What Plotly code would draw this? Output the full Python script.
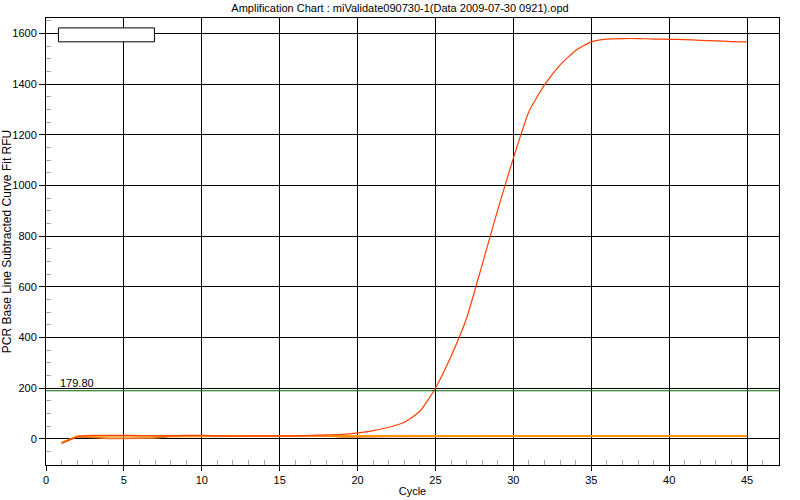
import plotly.graph_objects as go

# ---- data ----
cycles = list(range(1, 46))

sample_main = [-18, 8, 14, 14, 14, 13, 12, 12, 14, 14, 12, 12, 12, 12, 12, 12, 14, 16, 18, 24,
               33, 46, 66, 109, 201, 326, 477, 688, 905, 1108, 1292, 1397, 1476, 1533, 1567,
               1578, 1580, 1580, 1578, 1577, 1576, 1573, 1571, 1568, 1567]
sample_orange = [-16, 11, 12, 12, 12, 12, 12, 12, 12, 12, 12, 12, 12, 12, 12, 12, 12, 12, 12, 12,
                 12, 12, 12, 12, 12, 12, 12, 12, 12, 12, 12, 12, 12, 12, 12, 12, 12, 12, 12, 12,
                 12, 12, 12, 12, 12]
sample_dark = [-14, 8, 6, 2, 2, 2, 4, 10, 10, 10, 10, 10, 10, 12, 12, 12, 12, 12, 8, 10,
               9, 10, 10, 10, 10, 10, 11, 10, 12, 10, 12, 12, 10, 10, 10, 10, 10, 12, 10, 12,
               12, 10, 12, 12, 12]

threshold_value = 190
threshold_label = "179.80"

x_ticks = [0, 5, 10, 15, 20, 25, 30, 35, 40, 45]
y_ticks = [0, 200, 400, 600, 800, 1000, 1200, 1400, 1600]
x_minor_ticks = [c for c in range(1, 47) if c % 5 != 0]
y_minor_ticks = [v for v in range(-100, 1651, 50) if v % 200 != 0]
x_range = [0, 47.05]
y_range = [-103, 1661]

title_text = "Amplification Chart : miValidate090730-1(Data 2009-07-30 0921).opd"
x_title = "Cycle"
y_title = "PCR Base Line Subtracted Curve Fit RFU"

FONT = "Liberation Sans, Arial, sans-serif"

fig = go.Figure()
fig.add_trace(go.Scatter(x=cycles, y=sample_dark, mode="lines",
                         line=dict(color="#E2701E", width=1.6), showlegend=False))
fig.add_trace(go.Scatter(x=cycles, y=sample_orange, mode="lines",
                         line=dict(color="#FF9900", width=1.6), showlegend=False))
fig.add_trace(go.Scatter(x=cycles, y=sample_main, mode="lines",
                         line=dict(color="#FF4000", width=1.2, shape="spline", smoothing=0.5),
                         showlegend=False))
# empty trace so the overlay axes (inside minor ticks) get drawn
fig.add_trace(go.Scatter(x=[], y=[], xaxis="x2", yaxis="y2", showlegend=False,
                         hoverinfo="skip"))

# threshold line
fig.add_shape(type="line", xref="paper", x0=0, x1=1, yref="y",
              y0=threshold_value, y1=threshold_value,
              line=dict(color="#006400", width=1), layer="above")
fig.add_annotation(x=0.74, y=threshold_value, xref="x", yref="y",
                   text=threshold_label, showarrow=False, xanchor="left", yanchor="bottom",
                   yshift=0, font=dict(family=FONT, size=11, color="black"))

# empty legend box
fig.add_shape(type="rect", xref="x", yref="y", x0=0.8, x1=6.96, y0=1567, y1=1622,
              fillcolor="white", line=dict(color="black", width=1), layer="above")

fig.update_layout(
    width=800, height=500,
    margin=dict(l=46, r=21, t=18, b=35),
    paper_bgcolor="white", plot_bgcolor="white",
    font=dict(family=FONT, size=11, color="black"),
    title=dict(text=title_text, x=0.5, xanchor="center", y=1 - 8 / 500,
               yanchor="middle", yref="container",
               font=dict(family=FONT, size=11, color="black")),
    showlegend=False,
    xaxis=dict(
        range=x_range, tickvals=x_ticks, ticktext=[str(v) for v in x_ticks],
        showgrid=True, gridcolor="black", gridwidth=1,
        zeroline=False, showline=True, linecolor="black", linewidth=1, mirror=True,
        ticks="outside", ticklen=5, tickcolor="black", tickwidth=1,
        tickfont=dict(family=FONT, size=11, color="black"),
        title=dict(text=x_title, standoff=2, font=dict(family=FONT, size=11, color="black")),
        automargin=False,
    ),
    yaxis=dict(
        range=y_range, tickvals=y_ticks, ticktext=[str(v) for v in y_ticks],
        showgrid=True, gridcolor="black", gridwidth=1,
        zeroline=True, zerolinecolor="black", zerolinewidth=1,
        showline=True, linecolor="black", linewidth=1, mirror=True,
        ticks="outside", ticklen=6, tickcolor="black", tickwidth=1,
        tickfont=dict(family=FONT, size=11, color="black"),
        title=dict(text=y_title, standoff=4, font=dict(family=FONT, size=12, color="black")),
        automargin=False,
    ),
    xaxis2=dict(overlaying="x", anchor="y2", side="bottom", range=x_range,
                tickvals=x_minor_ticks, ticks="inside", ticklen=5, tickcolor="#a8a8a8",
                showticklabels=False, showgrid=False, zeroline=False, showline=False,
                automargin=False),
    yaxis2=dict(overlaying="y", anchor="x2", side="left", range=y_range,
                tickvals=y_minor_ticks, ticks="inside", ticklen=5, tickcolor="#a8a8a8",
                showticklabels=False, showgrid=False, zeroline=False, showline=False,
                automargin=False),
)

fig.write_html("out.html", config={"displayModeBar": False},
               post_script="document.body.style.margin='0';document.body.style.overflow='hidden';")
